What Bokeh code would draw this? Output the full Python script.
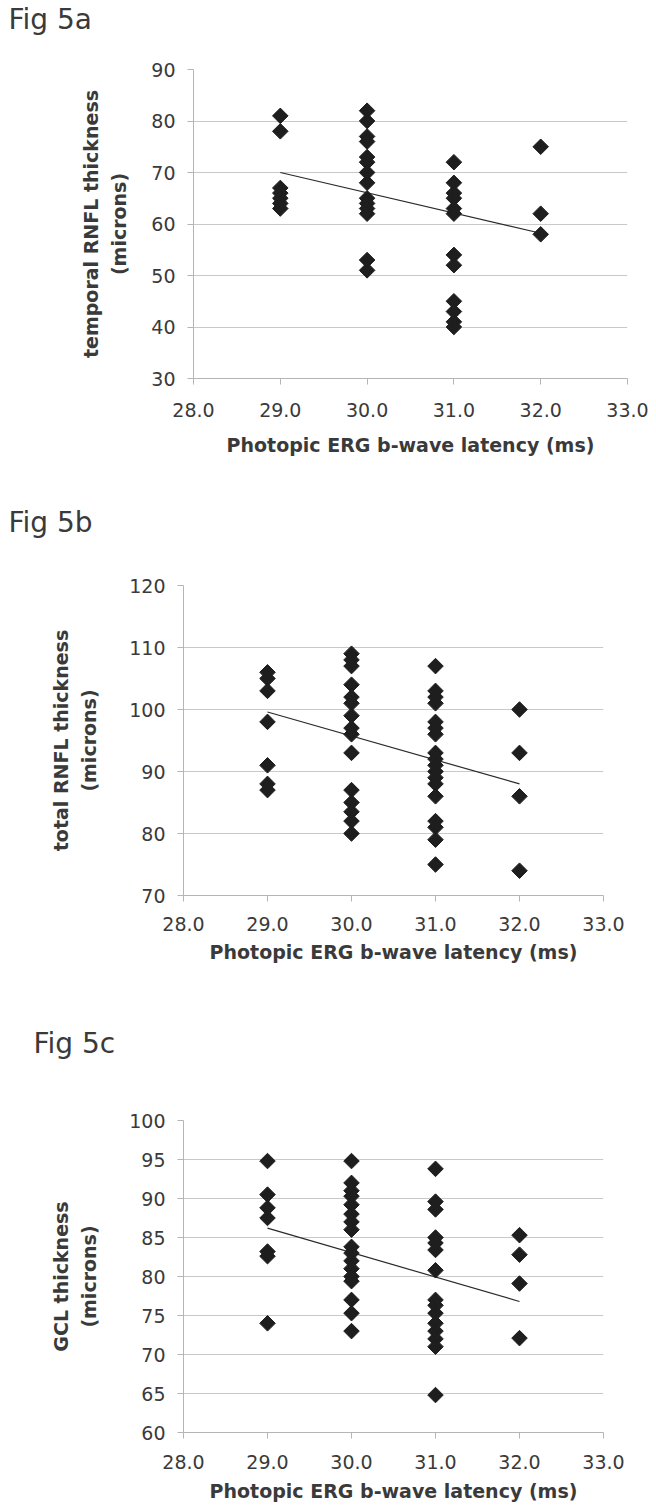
import numpy as np
from bokeh.plotting import figure
from bokeh.models import FixedTicker, PrintfTickFormatter, Title, Range1d
from bokeh.embed import file_html
from bokeh.resources import INLINE

# ---------------- data ----------------
x_ticks = [28, 29, 30, 31, 32, 33]

# Fig 5a: temporal RNFL thickness vs photopic ERG b-wave latency
a_latency = [29]*7 + [30]*14 + [31]*12 + [32]*3
a_temporal_rnfl = [81, 78, 67, 66, 65, 64, 63,
                   82, 80, 77, 76, 73, 72, 70, 68, 65, 64, 63, 62, 53, 51,
                   72, 68, 66, 65, 63, 62, 54, 52, 45, 43, 41, 40,
                   75, 62, 58]
a_trend_x = [29, 32]
a_trend_y = [70.0, 58.2]
a_y_ticks = [30, 40, 50, 60, 70, 80, 90]

# Fig 5b: total RNFL thickness
b_latency = [29]*7 + [30]*15 + [31]*18 + [32]*4
b_total_rnfl = [106, 105, 103, 98, 91, 88, 87,
                109, 108, 107, 104, 102, 101, 99, 97, 96, 93, 87, 85, 83.5, 82, 80,
                107, 103, 102, 101, 98, 97, 96, 93, 92, 91, 90, 89, 88, 86, 82, 81, 79, 75,
                100, 93, 86, 74]
b_trend_x = [29, 32]
b_trend_y = [99.6, 88.0]
b_y_ticks = [70, 80, 90, 100, 110, 120]

# Fig 5c: GCL thickness
c_latency = [29]*7 + [30]*17 + [31]*15 + [32]*4
c_gcl = [94.8, 90.5, 88.8, 87.5, 83.2, 82.6, 74,
         94.8, 92, 91, 90.3, 89.2, 88, 87, 86, 83.8, 83, 82, 81, 80, 79.4, 77, 75.3, 73,
         93.8, 89.6, 88.6, 85, 84.3, 83.4, 80.8, 77, 76.3, 75.3, 74, 73, 72, 71, 64.8,
         85.3, 82.8, 79.1, 72.1]
c_trend_x = [29, 32]
c_trend_y = [86.2, 76.8]
c_y_ticks = [60, 65, 70, 75, 80, 85, 90, 95, 100]

x_label = "Photopic ERG b-wave latency (ms)"

FONT = "DejaVu Sans"
TEXT = "#3a3a3a"
AXIS = "#b5b5b5"
GRID = "#c9c9c9"
MARK = "#1e1e1e"


def panel(title, ylabel, xs, ys, tx, ty, yticks, W, H, ml, mr, mt, mb,
          title_x, title_gap, tick_so, xlab_so, ylab_so):
    x0, x1 = x_ticks[0], x_ticks[-1]
    y0, y1 = yticks[0], yticks[-1]
    p = figure(width=W, height=H, output_backend="svg", toolbar_location=None,
               title=None,
               x_range=Range1d(x0, x1), y_range=Range1d(y0, y1),
               min_border_left=ml, min_border_right=mr,
               min_border_top=mt, min_border_bottom=mb)
    p.outline_line_color = None
    p.background_fill_color = "white"
    p.border_fill_color = "white"
    p.xgrid.grid_line_color = None
    p.ygrid.grid_line_color = GRID
    p.ygrid.grid_line_width = 1

    p.xaxis.ticker = FixedTicker(ticks=x_ticks)
    p.xaxis.formatter = PrintfTickFormatter(format="%.1f")
    p.yaxis.ticker = FixedTicker(ticks=yticks)
    p.ygrid.ticker = FixedTicker(ticks=yticks)

    for ax in (p.xaxis, p.yaxis):
        ax.axis_line_color = AXIS
        ax.major_tick_line_color = AXIS
        ax.major_tick_out = 6
        ax.major_tick_in = 0
        ax.minor_tick_line_color = None
        ax.major_label_text_font = FONT
        ax.major_label_text_font_size = "19px"
        ax.major_label_text_color = TEXT
        ax.axis_label_text_font = FONT
        ax.axis_label_text_font_size = "19px"
        ax.axis_label_text_font_style = "bold"
        ax.axis_label_text_color = TEXT

    p.xaxis.major_label_standoff = tick_so
    p.yaxis.major_label_standoff = 12
    p.xaxis.axis_label = x_label
    p.xaxis.axis_label_standoff = xlab_so
    p.yaxis.axis_label = ylabel
    p.yaxis.axis_label_standoff = ylab_so
    p.yaxis.axis_label_text_line_height = 1.3

    p.line(tx, ty, line_color="#2a2a2a", line_width=1.2)
    p.scatter(xs, ys, marker="square", angle=np.pi / 4, size=11,
              fill_color=MARK, line_color=MARK)

    # spacer between the frame and the panel title
    spacer = Title(text=" ", text_font_size="1px", text_color="white")
    spacer.standoff = title_gap
    p.add_layout(spacer, "above")
    t = Title(text=title, align="left", offset=title_x - ml,
              text_font=FONT, text_font_size="28px", text_font_style="normal",
              text_color=TEXT)
    t.standoff = 0
    p.add_layout(t, "above")
    return p


pa = panel("Fig 5a", "temporal RNFL thickness\n(microns)", a_latency, a_temporal_rnfl,
           a_trend_x, a_trend_y, a_y_ticks,
           W=650, H=500, ml=193, mr=23, mt=69, mb=122,
           title_x=8, title_gap=31, tick_so=18, xlab_so=14, ylab_so=18)
pb = panel("Fig 5b", "total RNFL thickness\n(microns)", b_latency, b_total_rnfl,
           b_trend_x, b_trend_y, b_y_ticks,
           W=650, H=512, ml=183, mr=47, mt=85, mb=117,
           title_x=8, title_gap=44, tick_so=15, xlab_so=7, ylab_so=26)
pc = panel("Fig 5c", "GCL thickness\n(microns)", c_latency, c_gcl,
           c_trend_x, c_trend_y, c_y_ticks,
           W=650, H=496, ml=183, mr=47, mt=108, mb=76,
           title_x=33, title_gap=58, tick_so=16, xlab_so=8, ylab_so=26)

open("out.html", "w").write(file_html([pa, pb, pc], INLINE))
